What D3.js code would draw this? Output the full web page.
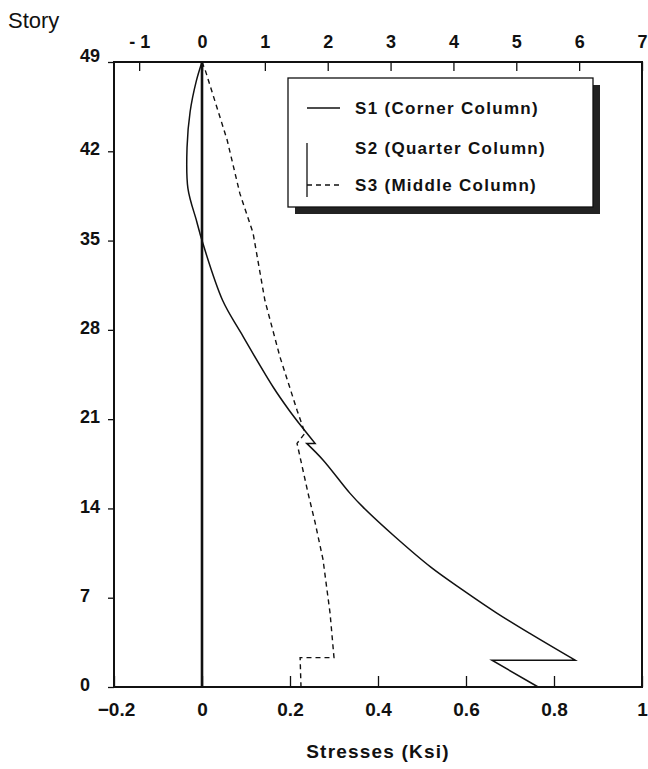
<!DOCTYPE html>
<html>
<head>
<meta charset="utf-8">
<script src="https://cdn.jsdelivr.net/npm/d3@7"></script>
<style>
  html, body { margin: 0; padding: 0; background: #fff; }
  svg { display: block; }
  text { font-family: "Liberation Sans", Arial, Helvetica, sans-serif; fill: #111; }
</style>
</head>
<body>
<svg id="chart" width="648" height="769"></svg>
<script>
// ---- data ----
const storyTicks = [0, 7, 14, 21, 28, 35, 42, 49];
const bottomTicks = [-0.2, 0, 0.2, 0.4, 0.6, 0.8, 1];
const topTicks = [-1, 0, 1, 2, 3, 4, 5, 6, 7];

const s1Stories = [49, 47.5, 45.1, 42.3, 39.1, 36.5, 35.0, 30.3, 27.8, 23.5, 21.7, 20.3, 19.1, 19.1, 17.8, 15.2, 14.1, 11.8, 9.4, 7.6, 5.8, 4.2, 2.1, 2.1, 0];
const s1Values  = [0, -0.013, -0.027, -0.034, -0.032, -0.012, 0, 0.047, 0.088, 0.162, 0.198, 0.229, 0.257, 0.238, 0.275, 0.336, 0.366, 0.438, 0.520, 0.593, 0.670, 0.745, 0.848, 0.659, 0.764];

const s2Stories = [0, 49];
const s2Values  = [0, 0];

const s3Stories = [49, 48.4, 42.9, 38.7, 35.6, 30.3, 25.9, 21.7, 19.9, 19.1, 15.2, 12.9, 10.0, 5.8, 2.3, 2.3, 0];
const s3Values  = [0, 0.007, 0.057, 0.086, 0.116, 0.143, 0.177, 0.216, 0.234, 0.216, 0.241, 0.257, 0.275, 0.291, 0.300, 0.223, 0.225];

const legendLabels = ["S1 (Corner Column)", "S2 (Quarter Column)", "S3 (Middle Column)"];

// ---- scales ----
const pLeft = 114, pRight = 642, pTop = 62, pBottom = 687;
const x = d3.scaleLinear().domain([-0.2, 1]).range([pLeft, pRight]);
const xTop = d3.scaleLinear().domain([-1.4, 7]).range([pLeft, pRight]);
const y = d3.scaleLinear().domain([0, 49]).range([pBottom, pTop]);

const svg = d3.select("#chart");

// frame
svg.append("rect").attr("x", pLeft).attr("y", pTop)
  .attr("width", pRight - pLeft).attr("height", pBottom - pTop)
  .attr("fill", "none").attr("stroke", "#111").attr("stroke-width", 2);

const tickFont = 19;

// bottom axis (ticks inward)
const gB = svg.append("g").attr("transform", `translate(0,${pBottom})`)
  .call(d3.axisBottom(x).tickValues(bottomTicks).tickSize(-11).tickPadding(16)
    .tickFormat(d => d === 0 ? "0" : d === 1 ? "1" : d3.format(".1f")(d)));
gB.select(".domain").remove();
gB.selectAll(".tick line").attr("stroke", "#111").attr("stroke-width", 1.3);
gB.selectAll(".tick text").attr("font-size", tickFont).attr("font-weight", "bold").attr("fill", "#111")
  .attr("dx", d => d < 0 ? 2 : 0);

// top axis (ticks inward)
const gT = svg.append("g").attr("transform", `translate(0,${pTop})`)
  .call(d3.axisTop(xTop).tickValues(topTicks).tickSize(-9).tickPadding(14)
    .tickFormat(d => d < 0 ? "- " + Math.abs(d) : String(d)));
gT.select(".domain").remove();
gT.selectAll(".tick line").attr("stroke", "#111").attr("stroke-width", 1.3);
gT.selectAll(".tick text").attr("font-size", tickFont - 1).attr("font-weight", "bold").attr("fill", "#111");

// left axis (ticks outward)
const gL = svg.append("g").attr("transform", `translate(${pLeft},0)`)
  .call(d3.axisLeft(y).tickValues(storyTicks).tickSize(6).tickPadding(8));
gL.select(".domain").remove();
gL.selectAll(".tick line").attr("stroke", "#111").attr("stroke-width", 1.3);
gL.selectAll(".tick text").attr("font-size", tickFont - 1).attr("font-weight", "bold").attr("fill", "#111")
  .attr("dx", d => d < 10 ? -10 : 0)
  .attr("dy", d => d === 49 ? "-0.05em" : "0.2em");

// axis titles
svg.append("text").attr("x", 8).attr("y", 28).attr("font-size", 22).text("Story");
svg.append("text").attr("x", (pLeft + pRight) / 2).attr("y", 758).attr("text-anchor", "middle")
  .attr("font-size", 19).attr("font-weight", "bold").attr("letter-spacing", 1.2).text("Stresses (Ksi)");

// lines
const toPts = (s, v) => s.map((d, i) => [d, v[i]]);
const lineLin = d3.line().x(d => x(d[1])).y(d => y(d[0]));
const lineSmooth = d3.line().x(d => x(d[1])).y(d => y(d[0])).curve(d3.curveCatmullRom.alpha(0.5));

// split a series at jumps (same story, two values) into smooth pieces + straight connectors
function drawSmoothWithJumps(pts, attrs) {
  const segs = [[pts[0]]];
  for (let i = 1; i < pts.length; i++) {
    if (pts[i][0] === pts[i - 1][0]) segs.push([pts[i]]);
    else segs[segs.length - 1].push(pts[i]);
  }
  let d = "";
  segs.forEach((s, k) => {
    const p = s.length > 2 ? lineSmooth(s) : lineLin(s);
    d += k === 0 ? p : "L" + p.slice(1);
  });
  const path = svg.append("path").attr("d", d).attr("fill", "none");
  Object.entries(attrs).forEach(([k, v]) => path.attr(k, v));
}

svg.append("path").datum(toPts(s2Stories, s2Values)).attr("d", lineLin)
  .attr("fill", "none").attr("stroke", "#111").attr("stroke-width", 2.6);
drawSmoothWithJumps(toPts(s1Stories, s1Values),
  {"stroke": "#111", "stroke-width": 1.5, "stroke-linejoin": "miter"});
svg.append("path").datum(toPts(s3Stories, s3Values)).attr("d", lineLin)
  .attr("fill", "none").attr("stroke", "#111").attr("stroke-width", 1.4).attr("stroke-dasharray", "5,4");

// legend with shadow
const lg = svg.append("g");
const lx = 288, ly = 78, lw = 305, lh = 129;
lg.append("rect").attr("x", lx + 7).attr("y", ly + 7).attr("width", lw).attr("height", lh).attr("fill", "#222");
lg.append("rect").attr("x", lx).attr("y", ly).attr("width", lw).attr("height", lh)
  .attr("fill", "#fff").attr("stroke", "#111").attr("stroke-width", 1.3);
const rowY = [108, 148, 185];
lg.append("line").attr("x1", 307).attr("x2", 340).attr("y1", rowY[0]).attr("y2", rowY[0])
  .attr("stroke", "#111").attr("stroke-width", 1.5);
lg.append("line").attr("x1", 307).attr("x2", 307).attr("y1", 143).attr("y2", 197)
  .attr("stroke", "#111").attr("stroke-width", 1.3);
lg.append("line").attr("x1", 307).attr("x2", 340).attr("y1", rowY[2]).attr("y2", rowY[2])
  .attr("stroke", "#111").attr("stroke-width", 1.3).attr("stroke-dasharray", "5,4");
legendLabels.forEach((t, i) => {
  lg.append("text").attr("x", 355).attr("y", rowY[i]).attr("dy", "0.35em")
    .attr("font-size", 17).attr("font-weight", "bold").attr("letter-spacing", 1.3).text(t);
});
</script>
</body>
</html>
